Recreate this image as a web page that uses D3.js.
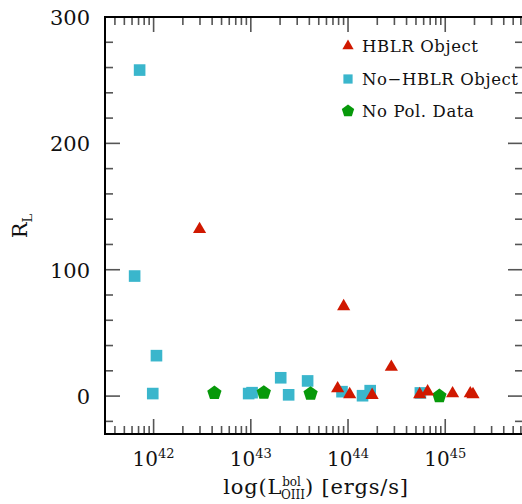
<!DOCTYPE html>
<html>
<head>
<meta charset="utf-8">
<script src="https://cdn.jsdelivr.net/npm/d3@7"></script>
<style>
  body { margin: 0; background: #ffffff; }
  svg { display: block; }
  text { font-family: "DejaVu Serif", serif; fill: #111; }
</style>
</head>
<body>
<div id="chart"></div>
<script>
//-------------------------------------------------------
// data
//-------------------------------------------------------
// HBLR objects: luminosity [ergs/s] and R_L
const hblrL  = [2.97e42, 9.02e43, 2.79e44, 7.82e43, 1.04e44, 1.77e44, 5.46e44, 6.59e44, 1.19e45, 1.81e45, 1.93e45];
const hblrR  = [132, 71, 23, 6, 1.3, 0.8, 1.3, 3.5, 2, 2, 1.3];

// No-HBLR objects
const noHblrL = [7.18e41, 6.38e41, 1.07e42, 9.8e41, 9.5e42, 1.03e43, 2.03e43, 2.45e43, 3.84e43, 8.67e43, 1.41e44, 1.69e44, 5.55e44];
const noHblrR = [258, 95, 32, 2, 2, 2.7, 14.5, 1, 12, 3.5, 0.3, 4.3, 2.5];

// no polarization data
const noPolL = [4.22e42, 1.36e43, 4.12e43, 8.71e44];
const noPolR = [3.2, 3.5, 2.7, 0.8];

const legendLabels = ["HBLR Object", "No\u2212HBLR Object", "No Pol. Data"];
const yTickValues = [0, 100, 200, 300];
const xTickExponents = [42, 43, 44, 45];

//-------------------------------------------------------
// properties
//-------------------------------------------------------
let properties = {
    width: 522,
    height: 504,
    margin: { top: 17, right: -1, bottom: 70, left: 105 },
    tick: { major: 15, minor: 8 },
    color: {
        frame: "#000000",
        tick: "#555555",
        red: "#d01800",
        cyan: "#3ab6cc",
        green: "#07990a"
    }
};
properties.boundedWidth = properties.width - properties.margin.left - properties.margin.right;
properties.boundedHeight = properties.height - properties.margin.top - properties.margin.bottom;

const svg = d3.select("#chart")
    .append("svg")
    .attr("width", properties.width)
    .attr("height", properties.height);

const bounds = svg.append("g")
    .attr("transform", `translate(${properties.margin.left},${properties.margin.top})`);

// scales
const x = d3.scaleLog()
    .domain([Math.pow(10, 41.5), Math.pow(10, 45.8)])
    .range([0, properties.boundedWidth]);

const y = d3.scaleLinear()
    .domain([-30, 300])
    .range([properties.boundedHeight, 0]);

//-------------------------------------------------------
// ticks (inward, on all four sides)
//-------------------------------------------------------
const xMajor = xTickExponents.map(e => Math.pow(10, e));
const xMinor = [];
for (let e = 41; e <= 45; e++) {
    for (let m = 2; m <= 9; m++) {
        const v = m * Math.pow(10, e);
        if (v >= x.domain()[0] && v <= x.domain()[1]) xMinor.push(v);
    }
}
const yMinor = d3.range(-20, 300, 20).filter(v => v % 100 !== 0);

const tickGroup = bounds.append("g")
    .attr("stroke", properties.color.tick)
    .attr("stroke-width", 1.6);

function xTicks(values, len) {
    values.forEach(v => {
        tickGroup.append("line")
            .attr("x1", x(v)).attr("x2", x(v))
            .attr("y1", properties.boundedHeight).attr("y2", properties.boundedHeight - len);
        tickGroup.append("line")
            .attr("x1", x(v)).attr("x2", x(v))
            .attr("y1", 0).attr("y2", len);
    });
}
function yTicks(values, len) {
    values.forEach(v => {
        tickGroup.append("line")
            .attr("x1", 0).attr("x2", len)
            .attr("y1", y(v)).attr("y2", y(v));
        tickGroup.append("line")
            .attr("x1", properties.boundedWidth).attr("x2", properties.boundedWidth - len)
            .attr("y1", y(v)).attr("y2", y(v));
    });
}
xTicks(xMajor, properties.tick.major);
xTicks(xMinor, properties.tick.minor);
yTicks(yTickValues, properties.tick.major);
yTicks(yMinor, properties.tick.minor);

// frame
bounds.append("rect")
    .attr("width", properties.boundedWidth)
    .attr("height", properties.boundedHeight)
    .attr("fill", "none")
    .attr("stroke", properties.color.frame)
    .attr("stroke-width", 2);

//-------------------------------------------------------
// tick labels
//-------------------------------------------------------
bounds.append("g").selectAll("text")
    .data(yTickValues)
    .enter()
    .append("text")
    .attr("x", -15)
    .attr("y", d => y(d) + 8)
    .attr("text-anchor", "end")
    .attr("font-size", 21)
    .text(d => d);

const xLab = bounds.append("g").selectAll("text")
    .data(xTickExponents)
    .enter()
    .append("text")
    .attr("x", d => x(Math.pow(10, d)))
    .attr("y", properties.boundedHeight + 32)
    .attr("text-anchor", "middle")
    .attr("font-size", 20);
xLab.append("tspan").text("10");
xLab.append("tspan").attr("dy", -8).attr("font-size", 13).text(d => d);

//-------------------------------------------------------
// axis titles
//-------------------------------------------------------
const xTitle = svg.append("text")
    .attr("x", 316)
    .attr("y", 494)
    .attr("text-anchor", "middle")
    .attr("font-size", 21)
    .attr("letter-spacing", 0.8);
xTitle.append("tspan").text("log(L");
xTitle.append("tspan").attr("font-size", 12).attr("letter-spacing", 0).attr("dy", -8).attr("dx", 0).text("bol");
xTitle.append("tspan").attr("font-size", 12).attr("letter-spacing", 0).attr("dy", 13).attr("dx", -20).text("OIII");
xTitle.append("tspan").attr("dy", -5).text(")  [ergs/s]");

const yTitle = svg.append("text")
    .attr("transform", "translate(27,226) rotate(-90)")
    .attr("text-anchor", "middle")
    .attr("font-size", 21);
yTitle.append("tspan").text("R");
yTitle.append("tspan").attr("font-size", 13).attr("dy", 5).text("L");

//-------------------------------------------------------
// marks
//-------------------------------------------------------
function pentagon(r) {
    const pts = d3.range(5).map(i => {
        const a = -Math.PI / 2 + i * 2 * Math.PI / 5;
        return [r * Math.cos(a), r * Math.sin(a)];
    });
    return "M" + pts.map(p => p.join(",")).join("L") + "Z";
}
const squarePath = s => d3.symbol(d3.symbolSquare, s)();
const trianglePath = s => d3.symbol(d3.symbolTriangle, s)();

const marks = bounds.append("g");

marks.selectAll("path.sq")
    .data(d3.zip(noHblrL, noHblrR))
    .enter()
    .append("path")
    .attr("class", "sq")
    .attr("d", squarePath(135))
    .attr("transform", d => `translate(${x(d[0])},${y(d[1])})`)
    .attr("fill", properties.color.cyan);

marks.selectAll("path.pent")
    .data(d3.zip(noPolL, noPolR))
    .enter()
    .append("path")
    .attr("class", "pent")
    .attr("d", pentagon(7.5))
    .attr("transform", d => `translate(${x(d[0])},${y(d[1]) + 1})`)
    .attr("fill", properties.color.green);

marks.selectAll("path.tri")
    .data(d3.zip(hblrL, hblrR))
    .enter()
    .append("path")
    .attr("class", "tri")
    .attr("d", trianglePath(75))
    .attr("transform", d => `translate(${x(d[0])},${y(d[1])})`)
    .attr("fill", properties.color.red);

//-------------------------------------------------------
// legend
//-------------------------------------------------------
const legend = svg.append("g");
const legendY = [46, 79, 111];
const legendShapes = [trianglePath(55), squarePath(85), pentagon(6.5)];
const legendColors = [properties.color.red, properties.color.cyan, properties.color.green];

legendLabels.forEach((label, i) => {
    legend.append("path")
        .attr("d", legendShapes[i])
        .attr("transform", `translate(348,${legendY[i]})`)
        .attr("fill", legendColors[i]);
    legend.append("text")
        .attr("x", 362)
        .attr("y", legendY[i] + 6)
        .attr("font-size", 16.5)
        .attr("letter-spacing", 0.6)
        .text(label);
});
</script>
</body>
</html>
